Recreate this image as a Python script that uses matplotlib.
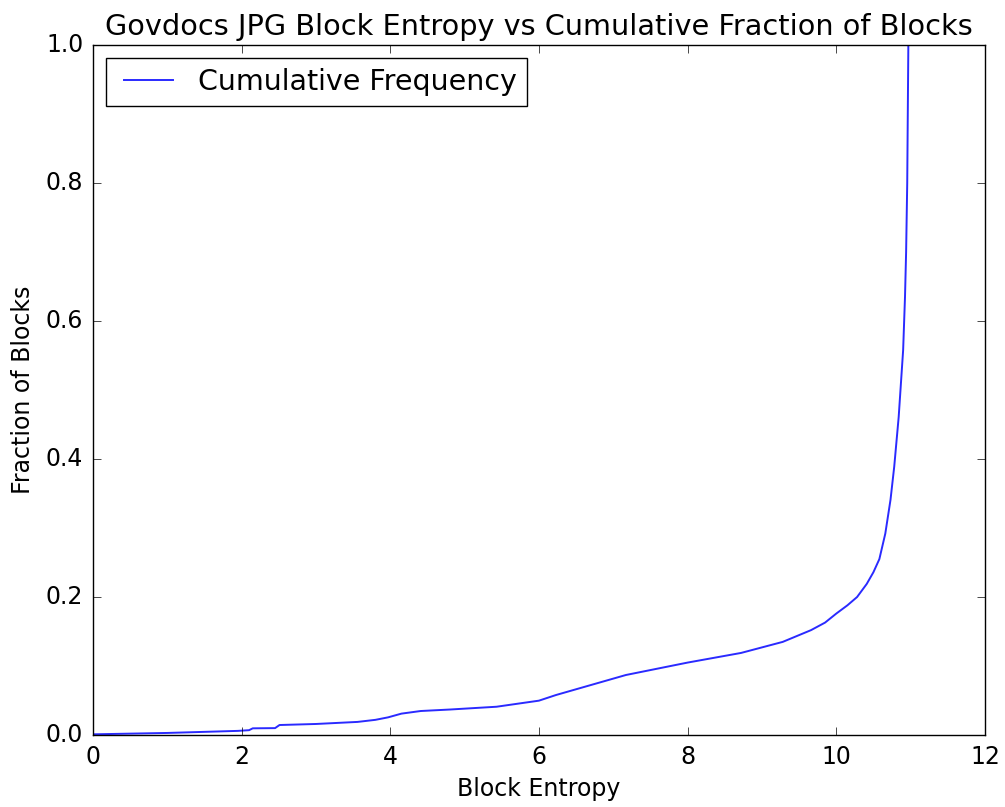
import numpy as np
import matplotlib
matplotlib.use("Agg")
import matplotlib.pyplot as plt

# cumulative fraction of blocks vs block entropy
entropy = [0.0, 1.0, 1.95, 2.1, 2.15, 2.45, 2.51, 3.0, 3.56, 3.8, 3.97, 4.15,
           4.41, 4.81, 5.43, 6.0, 6.23, 6.7, 7.17, 8.0, 8.72, 9.28, 9.66,
           9.85, 10.0, 10.15, 10.28, 10.41, 10.5, 10.58, 10.66, 10.73, 10.78,
           10.84, 10.9, 10.925, 10.94, 10.955, 10.97]
fraction = [0.001, 0.003, 0.006, 0.007, 0.0097, 0.010, 0.0145, 0.016, 0.019,
            0.022, 0.0256, 0.031, 0.0348, 0.037, 0.041, 0.0498, 0.058, 0.0725,
            0.087, 0.105, 0.119, 0.135, 0.152, 0.163, 0.176, 0.188, 0.200,
            0.219, 0.236, 0.255, 0.292, 0.341, 0.389, 0.461, 0.558, 0.635,
            0.70, 0.80, 1.0]

plt.style.use('classic')

fig = plt.figure(figsize=(10.05, 8.07), dpi=100, facecolor='white')
ax = fig.add_axes([0.0925, 0.0892, 0.8875, 0.8548])

ax.plot(entropy, fraction, color='#2a2aff', lw=1.4, label='Cumulative Frequency')

ax.set_xlim(0, 12)
ax.set_ylim(0, 1.0)
ax.set_xticks(np.arange(0, 13, 2))
ax.set_yticks(np.arange(0, 1.01, 0.2))
ax.tick_params(labelsize=17, length=6, pad=7)

ax.set_title('Govdocs JPG Block Entropy vs Cumulative Fraction of Blocks',
             fontsize=20.7, y=1.005)
ax.set_xlabel('Block Entropy', fontsize=17, labelpad=6)
ax.set_ylabel('Fraction of Blocks', fontsize=17, labelpad=8)

leg = ax.legend(loc='upper left', fontsize=20.5, frameon=True, fancybox=False,
                handlelength=2.3, borderpad=0.35, handletextpad=0.6,
                borderaxespad=0.45)

fig.savefig('out.png', dpi=100, facecolor='white')
